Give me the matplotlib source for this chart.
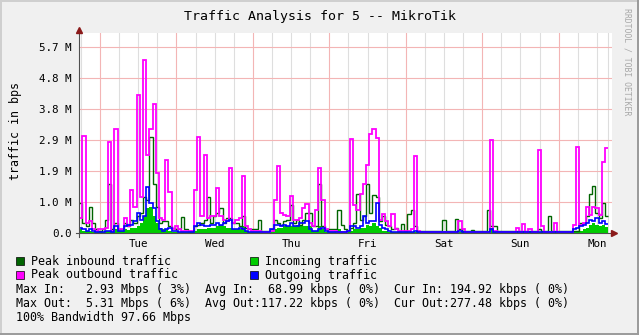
import numpy as np
import matplotlib
matplotlib.use('Agg')
import matplotlib.pyplot as plt
from matplotlib.patches import Rectangle
from matplotlib.lines import Line2D

# ---------------- data (hourly, in M bits/s) ----------------
peak_out = [
    0.45, 2.96, 0.30, 0.35, 0.10, 0.05, 0.10, 0.10, 0.15, 2.80,
    0.05, 3.20, 0.10, 0.10, 0.45, 0.20, 1.32, 0.80, 4.24, 1.10,
    5.30, 2.40, 3.20, 3.96, 1.84, 0.45, 0.40, 2.25, 1.24, 0.10,
    0.20, 0.10, 0.05, 0.05, 0.05, 0.05, 1.30, 2.93, 0.50, 2.40,
    0.45, 0.50, 0.50, 1.38, 0.50, 0.40, 0.35, 2.00, 0.30, 0.40,
    0.45, 1.75, 0.20, 0.10, 0.05, 0.05, 0.05, 0.03, 0.03, 0.03,
    0.05, 1.00, 2.04, 0.60, 0.55, 0.50, 1.14, 0.40, 0.40, 0.45,
    0.76, 0.88, 0.30, 0.20, 0.70, 1.99, 1.00, 0.10, 0.05, 0.05,
    0.05, 0.03, 0.03, 0.03, 0.05, 2.88, 0.85, 0.70, 1.20, 1.50,
    2.08, 3.04, 3.19, 2.90, 0.40, 0.58, 0.35, 0.20, 0.56, 0.10,
    0.05, 0.05, 0.05, 0.05, 0.10, 2.36, 0.05, 0.03, 0.03, 0.03,
    0.03, 0.03, 0.03, 0.03, 0.03, 0.03, 0.03, 0.03, 0.03, 0.37,
    0.10, 0.03, 0.03, 0.03, 0.03, 0.03, 0.03, 0.03, 0.03, 2.86,
    0.05, 0.03, 0.03, 0.03, 0.03, 0.03, 0.03, 0.14, 0.03, 0.27,
    0.03, 0.10, 0.03, 0.03, 2.55, 0.20, 0.03, 0.03, 0.03, 0.30,
    0.03, 0.03, 0.03, 0.03, 0.03, 0.25, 2.63, 0.25, 0.30, 0.80,
    0.55, 0.80, 0.75, 0.55, 2.19, 2.60,
]
peak_in = [
    0.91, 0.30, 0.20, 0.80, 0.30, 0.10, 0.05, 0.10, 0.40, 1.50,
    0.10, 0.30, 0.10, 0.10, 0.30, 0.20, 0.40, 0.30, 0.50, 0.60,
    1.10, 1.00, 2.93, 1.50, 0.80, 0.30, 0.35, 0.35, 0.20, 0.15,
    0.10, 0.10, 0.48, 0.10, 0.05, 0.05, 0.20, 0.25, 0.30, 0.40,
    1.10, 0.30, 0.50, 0.60, 0.75, 0.30, 0.45, 0.45, 0.30, 0.30,
    0.20, 0.50, 0.15, 0.10, 0.10, 0.10, 0.38, 0.05, 0.05, 0.05,
    0.10, 0.40, 0.30, 0.25, 0.35, 0.40, 0.85, 0.30, 0.40, 0.25,
    0.40, 0.60, 0.60, 0.20, 0.20, 1.50, 0.20, 0.10, 0.10, 0.10,
    0.10, 0.70, 0.25, 0.10, 0.05, 0.15, 0.30, 1.19, 0.40, 0.50,
    1.50, 0.60, 1.17, 1.10, 0.35, 0.50, 0.25, 0.20, 0.10, 0.15,
    0.05, 0.27, 0.05, 0.57, 0.69, 0.20, 0.05, 0.05, 0.05, 0.05,
    0.05, 0.05, 0.05, 0.05, 0.38, 0.05, 0.05, 0.05, 0.42, 0.10,
    0.05, 0.05, 0.05, 0.07, 0.05, 0.05, 0.05, 0.05, 0.70, 0.20,
    0.20, 0.05, 0.05, 0.05, 0.05, 0.05, 0.05, 0.05, 0.05, 0.05,
    0.05, 0.05, 0.05, 0.05, 0.10, 0.05, 0.05, 0.52, 0.05, 0.05,
    0.05, 0.05, 0.05, 0.05, 0.05, 0.05, 0.05, 0.30, 0.30, 0.50,
    1.18, 1.44, 0.60, 0.45, 0.91, 0.50,
]
incoming = [
    0.10, 0.05, 0.05, 0.05, 0.03, 0.02, 0.02, 0.03, 0.05, 0.05,
    0.03, 0.10, 0.05, 0.05, 0.10, 0.08, 0.15, 0.15, 0.20, 0.30,
    0.50, 0.75, 0.80, 0.50, 0.30, 0.15, 0.10, 0.10, 0.05, 0.03,
    0.03, 0.03, 0.05, 0.03, 0.02, 0.02, 0.05, 0.10, 0.10, 0.10,
    0.15, 0.15, 0.15, 0.20, 0.25, 0.20, 0.15, 0.15, 0.10, 0.10,
    0.10, 0.20, 0.05, 0.03, 0.02, 0.02, 0.05, 0.02, 0.02, 0.02,
    0.05, 0.10, 0.15, 0.15, 0.20, 0.20, 0.20, 0.20, 0.25, 0.20,
    0.20, 0.20, 0.20, 0.05, 0.05, 0.20, 0.10, 0.02, 0.02, 0.02,
    0.05, 0.10, 0.05, 0.02, 0.02, 0.05, 0.10, 0.10, 0.15, 0.15,
    0.25, 0.20, 0.30, 0.20, 0.15, 0.05, 0.05, 0.02, 0.02, 0.02,
    0.02, 0.02, 0.02, 0.02, 0.02, 0.02, 0.02, 0.02, 0.02, 0.02,
    0.02, 0.02, 0.02, 0.02, 0.02, 0.02, 0.02, 0.02, 0.02, 0.02,
    0.02, 0.02, 0.02, 0.02, 0.02, 0.02, 0.02, 0.02, 0.05, 0.15,
    0.03, 0.02, 0.02, 0.02, 0.02, 0.02, 0.02, 0.02, 0.02, 0.02,
    0.02, 0.02, 0.02, 0.02, 0.02, 0.02, 0.02, 0.02, 0.02, 0.02,
    0.02, 0.02, 0.02, 0.02, 0.02, 0.02, 0.02, 0.05, 0.10, 0.15,
    0.25, 0.30, 0.25, 0.20, 0.25, 0.19,
]
outgoing = [
    0.15, 0.10, 0.05, 0.10, 0.05, 0.03, 0.03, 0.03, 0.05, 0.05,
    0.03, 0.20, 0.05, 0.05, 0.20, 0.25, 0.25, 0.35, 0.60, 0.40,
    0.50, 1.40, 0.90, 0.75, 0.35, 0.10, 0.05, 0.10, 0.15, 0.05,
    0.05, 0.03, 0.03, 0.03, 0.03, 0.03, 0.20, 0.30, 0.25, 0.20,
    0.20, 0.25, 0.25, 0.30, 0.25, 0.30, 0.35, 0.38, 0.10, 0.10,
    0.15, 0.10, 0.05, 0.03, 0.02, 0.02, 0.02, 0.02, 0.02, 0.02,
    0.10, 0.25, 0.25, 0.20, 0.25, 0.20, 0.30, 0.20, 0.20, 0.30,
    0.30, 0.35, 0.10, 0.05, 0.05, 0.10, 0.15, 0.05, 0.02, 0.02,
    0.02, 0.02, 0.02, 0.02, 0.05, 0.20, 0.20, 0.15, 0.20, 0.50,
    0.30, 0.35, 0.35, 0.90, 0.25, 0.15, 0.10, 0.05, 0.03, 0.03,
    0.03, 0.03, 0.03, 0.03, 0.03, 0.05, 0.02, 0.02, 0.02, 0.02,
    0.02, 0.02, 0.02, 0.02, 0.02, 0.02, 0.02, 0.02, 0.02, 0.05,
    0.02, 0.02, 0.02, 0.02, 0.02, 0.02, 0.02, 0.02, 0.02, 0.10,
    0.02, 0.02, 0.02, 0.02, 0.02, 0.02, 0.02, 0.02, 0.02, 0.02,
    0.02, 0.02, 0.02, 0.02, 0.03, 0.02, 0.02, 0.02, 0.02, 0.02,
    0.02, 0.02, 0.02, 0.02, 0.02, 0.10, 0.15, 0.20, 0.25, 0.30,
    0.40, 0.35, 0.45, 0.30, 0.35, 0.28,
]
day_names = ['Tue', 'Wed', 'Thu', 'Fri', 'Sat', 'Sun', 'Mon']
legend_entries = [('Peak inbound traffic', '#006400'), ('Incoming traffic', '#00CC00'),
                  ('Peak outbound traffic', '#FF00FF'), ('Outgoing traffic', '#0000FF')]
stats_lines = [
    'Max In:   2.93 Mbps ( 3%)  Avg In:  68.99 kbps ( 0%)  Cur In: 194.92 kbps ( 0%)',
    'Max Out:  5.31 Mbps ( 6%)  Avg Out:117.22 kbps ( 0%)  Cur Out:277.48 kbps ( 0%)',
    '100% Bandwidth 97.66 Mbps',
]
title = 'Traffic Analysis for 5 -- MikroTik'

# ---------------- layout ----------------
W, H = 639, 335
MONO = 'DejaVu Sans Mono'
fig = plt.figure(figsize=(W / 100, H / 100), dpi=100, facecolor='#F0F0F0')

def fx(x):
    return x / W

def fy(y):
    return 1 - y / H

X0, X1 = 79.3, 611.7
Y0, Y1 = 232.7, 33.0
PX_PER_DAY = 76.45
STEP = 1 / 1.048576          # grid step in M
PX_PER_STEP = 31.0
hours_per_px = 24 / PX_PER_DAY
xmax = (X1 - X0) * hours_per_px
data_end = (607.7 - X0) * hours_per_px
ymax = (Y0 - Y1) / PX_PER_STEP * STEP
first_midnight = 6.5

ax = fig.add_axes([fx(X0), fy(Y0), (X1 - X0) / W, (Y0 - Y1) / H])
ax.set_facecolor('white')
ax.set_xlim(0, xmax)
ax.set_ylim(0, ymax)
for s in ax.spines.values():
    s.set_visible(False)

# grid
for k in range(0, 30):
    h = first_midnight - 6 + 6 * k
    if h <= 0 or h >= xmax:
        continue
    if k % 4 == 1:
        ax.axvline(h, color='#F3B5B5', lw=0.8, zorder=1)
    else:
        ax.axvline(h, color='#DEDEDE', lw=0.8, zorder=0.9)
for k in range(1, 7):
    ax.axhline(k * STEP, color='#F3B5B5', lw=0.8, zorder=1)
ax.axvline(data_end, color='#DDDDDD', lw=0.8, zorder=0.9)

# data
n = len(peak_out)
edges = np.arange(n + 1, dtype=float)
edges[-1] = data_end
ax.stairs(incoming, edges, fill=True, color='#00CC00', baseline=0, zorder=2)
ax.stairs(peak_in, edges, color='#006400', lw=1.0, baseline=None, zorder=3)
ax.stairs(peak_out, edges, color='#FF00FF', lw=1.3, baseline=None, zorder=4)
ax.stairs(outgoing, edges, color='#0000FF', lw=1.2, baseline=None, zorder=5)

# ticks
yt = [k * STEP for k in range(7)]
ylabels = ['0.0'] + ['%.1f M' % v for v in yt[1:]]
ax.set_yticks(yt)
ax.set_yticklabels(ylabels, fontfamily=MONO, fontsize=7.8)
xt = [first_midnight + 12 + 24 * i for i in range(len(day_names))]
ax.set_xticks(xt)
ax.set_xticklabels(day_names, fontfamily=MONO, fontsize=7.8)
ax.tick_params(axis='both', length=0)
ax.tick_params(axis='y', pad=5.5)
ax.tick_params(axis='x', pad=4.5)

# axes lines and arrows
fig.add_artist(Line2D([fx(X0), fx(X0)], [fy(236.5), fy(31)], color='#505050', lw=0.8))
fig.add_artist(Line2D([fx(76), fx(612)], [fy(Y0), fy(Y0)], color='#505050', lw=0.8))
fig.add_artist(Line2D([fx(X0)], [fy(29.5)], marker='^', color='#8B1A1A', markersize=4.5, lw=0))
fig.add_artist(Line2D([fx(614)], [fy(Y0)], marker='>', color='#8B1A1A', markersize=4.5, lw=0))

# texts
fig.text(fx(319.7), fy(16.5), title, ha='center', va='center', fontfamily=MONO, fontsize=9.5)
fig.text(fx(16), fy(131.5), 'traffic in bps', rotation=90, ha='center', va='center',
         fontfamily=MONO, fontsize=8.4)
fig.text(fx(627), fy(7.5), 'RRDTOOL / TOBI OETIKER', rotation=270, ha='center', va='top',
         fontfamily=MONO, fontsize=5.9, color='#A8A8A8')

# legend
pos = [(16.3, 261.3), (250.0, 261.3), (16.3, 275.0), (250.0, 275.0)]
for (label, col), (lx, ly) in zip(legend_entries, pos):
    fig.add_artist(Rectangle((fx(lx), fy(ly + 4)), 8 / W, 8 / H, facecolor=col,
                             edgecolor='black', lw=0.5))
    fig.text(fx(lx + 14.7), fy(ly), label, ha='left', va='center', fontfamily=MONO, fontsize=8.4)
for line, ly in zip(stats_lines, [289.3, 303.3, 317.3]):
    fig.text(fx(16.3), fy(ly), line, ha='left', va='center', fontfamily=MONO, fontsize=8.4)

# 3D frame
fig.add_artist(Line2D([0, 1], [fy(0.5), fy(0.5)], color='#CFCFCF', lw=1.4))
fig.add_artist(Line2D([fx(0.5), fx(0.5)], [0, 1], color='#CFCFCF', lw=1.4))
fig.add_artist(Line2D([0, 1], [fy(334.2), fy(334.2)], color='#9A9A9A', lw=1.4))
fig.add_artist(Line2D([fx(638.2), fx(638.2)], [0, 1], color='#9A9A9A', lw=1.4))

fig.savefig('out.png', dpi=100, facecolor=fig.get_facecolor())
